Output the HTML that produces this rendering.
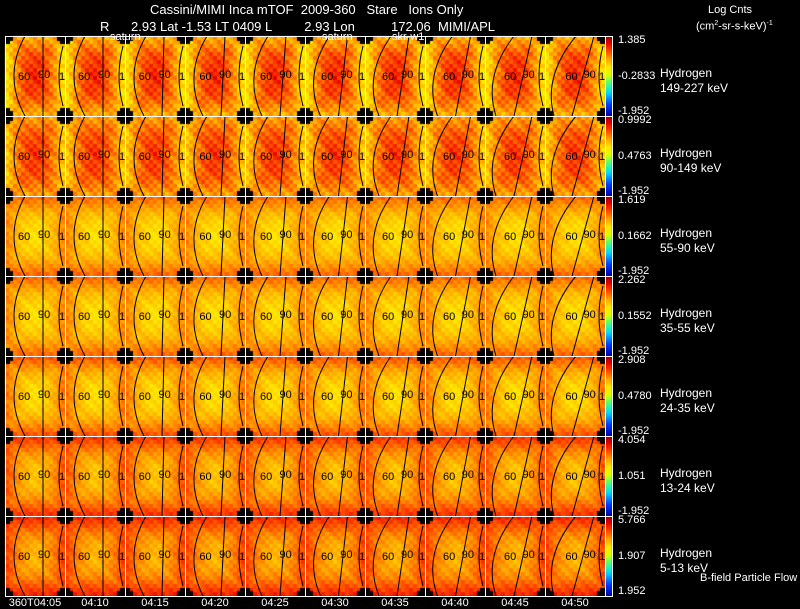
<!DOCTYPE html>
<html><head><meta charset="utf-8">
<style>
body{margin:0;background:#000;width:800px;height:609px;overflow:hidden;position:relative;font-family:"Liberation Sans",sans-serif;color:#fff}
.t{position:absolute;white-space:pre;font-size:13px;line-height:13px}
.s{position:absolute;white-space:pre;font-size:11px;line-height:11px}
canvas,svg{position:absolute;left:0;top:0}
</style></head><body>
<canvas id="cv" width="800" height="609"></canvas>
<svg id="ov" width="800" height="609"></svg>
<div class="t" style="left:150px;top:3px">Cassini/MIMI Inca mTOF  2009-360   Stare   Ions Only</div>
<div class="t" style="left:100px;top:20px">R      2.93 Lat -1.53 LT 0409 L         2.93 Lon          172.06  MIMI/APL</div>
<div class="s" style="left:110px;top:32px">saturn</div>
<div class="s" style="left:322px;top:32px">saturn</div>
<div class="s" style="left:392px;top:32px">skr-w1</div>
<div class="s" style="left:708px;top:5px">Log Cnts</div>
<div class="s" style="left:696px;top:18px">(cm<sup style="font-size:7px">2</sup>-sr-s-keV)<sup style="font-size:7px">-1</sup></div>
<div id="lab"></div>
<script>
const times=["360T04:05","04:10","04:15","04:20","04:25","04:30","04:35","04:40","04:45","04:50"];
const species=["149-227 keV","90-149 keV","55-90 keV","35-55 keV","24-35 keV","13-24 keV","5-13 keV"];
const cbTop=["1.385","0.9992","1.619","2.262","2.908","4.054","5.766"];
const cbMid=["-0.2833","0.4763","0.1662","0.1552","0.4780","1.051","1.907"];
const cbBot=["-1.952","-1.952","-1.952","-1.952","-1.952","-1.952","1.952"];
// per energy row: center intensity and edge intensity (0..1 on color scale)
const rowCenter=[0.88,0.86,0.62,0.62,0.62,0.66,0.68];
const rowEdge=[0.62,0.66,0.78,0.78,0.8,0.84,0.86];
// horizontal & vertical profile across a panel (0=center-like,1=edge-like)
const hProf=[1,0.8,0.6,0.45,0.3,0.2,0.1,0,0.1,0.2,0.3,0.45,0.6,0.8,1];
const vProf=[1,0.85,0.7,0.55,0.4,0.3,0.2,0.1,0.05,0,0,0.05,0.1,0.2,0.3,0.4,0.55,0.7,0.85,1];
const tilt=[0,0,2,4,6,9,12,15,18,22];
const X0=5,PW=60,Y0=36,PH=80,NC=15,NR=20;
function cmap(v){v=Math.max(0,Math.min(1,v));
 const st=[[0,[0,0,160]],[0.15,[0,60,255]],[0.3,[0,220,255]],[0.42,[80,255,120]],[0.52,[220,255,0]],[0.62,[255,230,0]],[0.72,[255,160,0]],[0.82,[255,70,0]],[0.92,[230,0,0]],[1,[150,0,0]]];
 for(let i=1;i<st.length;i++){if(v<=st[i][0]){const a=st[i-1],b=st[i],f=(v-a[0])/(b[0]-a[0]);return `rgb(${a[1].map((c,k)=>Math.round(c+(b[1][k]-c)*f)).join(',')})`;}}return 'rgb(150,0,0)';}
const ctx=document.getElementById('cv').getContext('2d');
const cw=PW/NC,ch=PH/NR;
for(let r=0;r<species.length;r++)for(let c=0;c<times.length;c++){
 const px=X0+c*PW,py=Y0+r*PH;
 for(let i=0;i<NC;i++)for(let j=0;j<NR;j++){
  const e=Math.max(hProf[i]*(r<2?1:0.8),vProf[j]*(r<2?0.7:1));
  const v=rowCenter[r]+(rowEdge[r]-rowCenter[r])*e+(((i*7+j*13+c*5+r*3)%5)-2)*(r<2?0.025:0.014);
  ctx.fillStyle=cmap(v);ctx.fillRect(px+i*cw,py+j*ch,Math.ceil(cw),Math.ceil(ch));
 }
 ctx.fillStyle='#000';
 [[0,0],[PW-8,0],[0,PH-8],[PW-8,PH-8]].forEach(([a,b])=>{ctx.fillRect(px+a+(a?3:0),py+b,5,8);ctx.fillRect(px+a,py+b+(b?3:0),8,5);});
}
// colorbars
for(let r=0;r<species.length;r++){const py=Y0+r*PH;
 for(let y=0;y<PH;y++){ctx.fillStyle=cmap(1-y/PH);ctx.fillRect(605,py+y,7,1);}
}
const svg=document.getElementById('ov');let h='';
for(let r=0;r<species.length;r++)for(let c=0;c<times.length;c++){
 const px=X0+c*PW,py=Y0+r*PH,t=tilt[c];
 h+=`<path d="M${px+20+t/2} ${py} Q${px-2} ${py+40} ${px+20-t/2} ${py+PH}" fill="none" stroke="#000" stroke-width="1"/>`;
 h+=`<path d="M${px+38+t/2} ${py} L${px+38-t/2} ${py+PH}" fill="none" stroke="#000" stroke-width="1"/>`;
 h+=`<path d="M${px+58} ${py+10} Q${px+50} ${py+40} ${px+58} ${py+70}" fill="none" stroke="#000" stroke-width="1"/>`;
 h+=`<text x="${px+13+t/3}" y="${py+44}" font-size="11" fill="#000" font-family="Liberation Sans">60</text>`;
 h+=`<text x="${px+33+t/4}" y="${py+42}" font-size="11" fill="#000" font-family="Liberation Sans">90</text>`;
 h+=`<text x="${px+54}" y="${py+44}" font-size="11" fill="#000" font-family="Liberation Sans">1</text>`;
 h+=`<rect x="${px+0.5}" y="${py+0.5}" width="${PW}" height="${PH}" fill="none" stroke="#fff" stroke-width="1"/>`;
}
for(let r=0;r<species.length;r++){const py=Y0+r*PH;h+=`<rect x="605.5" y="${py+0.5}" width="7" height="${PH}" fill="none" stroke="#fff"/>`;}
svg.innerHTML=h;
svg.querySelectorAll('path').forEach(e=>{});
const lab=document.getElementById('lab');
for(let r=0;r<species.length;r++){const py=Y0+r*PH;
 const a=document.createElement('div');a.className='s';a.style.left='618px';a.style.top=(py-1)+'px';a.textContent=cbTop[r];
 
 lab.appendChild(a);
 const b=document.createElement('div');b.className='s';b.style.left='618px';b.style.top=(py+35)+'px';b.textContent=cbMid[r];
 
 lab.appendChild(b);
 const d=document.createElement('div');d.className='s';d.style.left='618px';d.style.top=(py+70)+'px';d.textContent=cbBot[r];
 
 lab.appendChild(d);
 const g=document.createElement('div');g.className='s';g.style.left='660px';g.style.top=(py+30)+'px';g.style.lineHeight='15px';g.style.fontSize='12px';g.innerHTML='Hydrogen<br>'+species[r];
 
 lab.appendChild(g);
}
for(let c=0;c<times.length;c++){const x=document.createElement('div');x.className='s';x.style.top='598px';
 x.style.left=(X0+c*PW+PW/2)+'px';x.style.transform='translateX(-50%)';x.textContent=times[c];
 
 lab.appendChild(x);}
const f=document.createElement('div');f.className='s';f.style.left='700px';f.style.top='573px';f.textContent='B-field Particle Flow';

lab.appendChild(f);
</script>
</body></html>
